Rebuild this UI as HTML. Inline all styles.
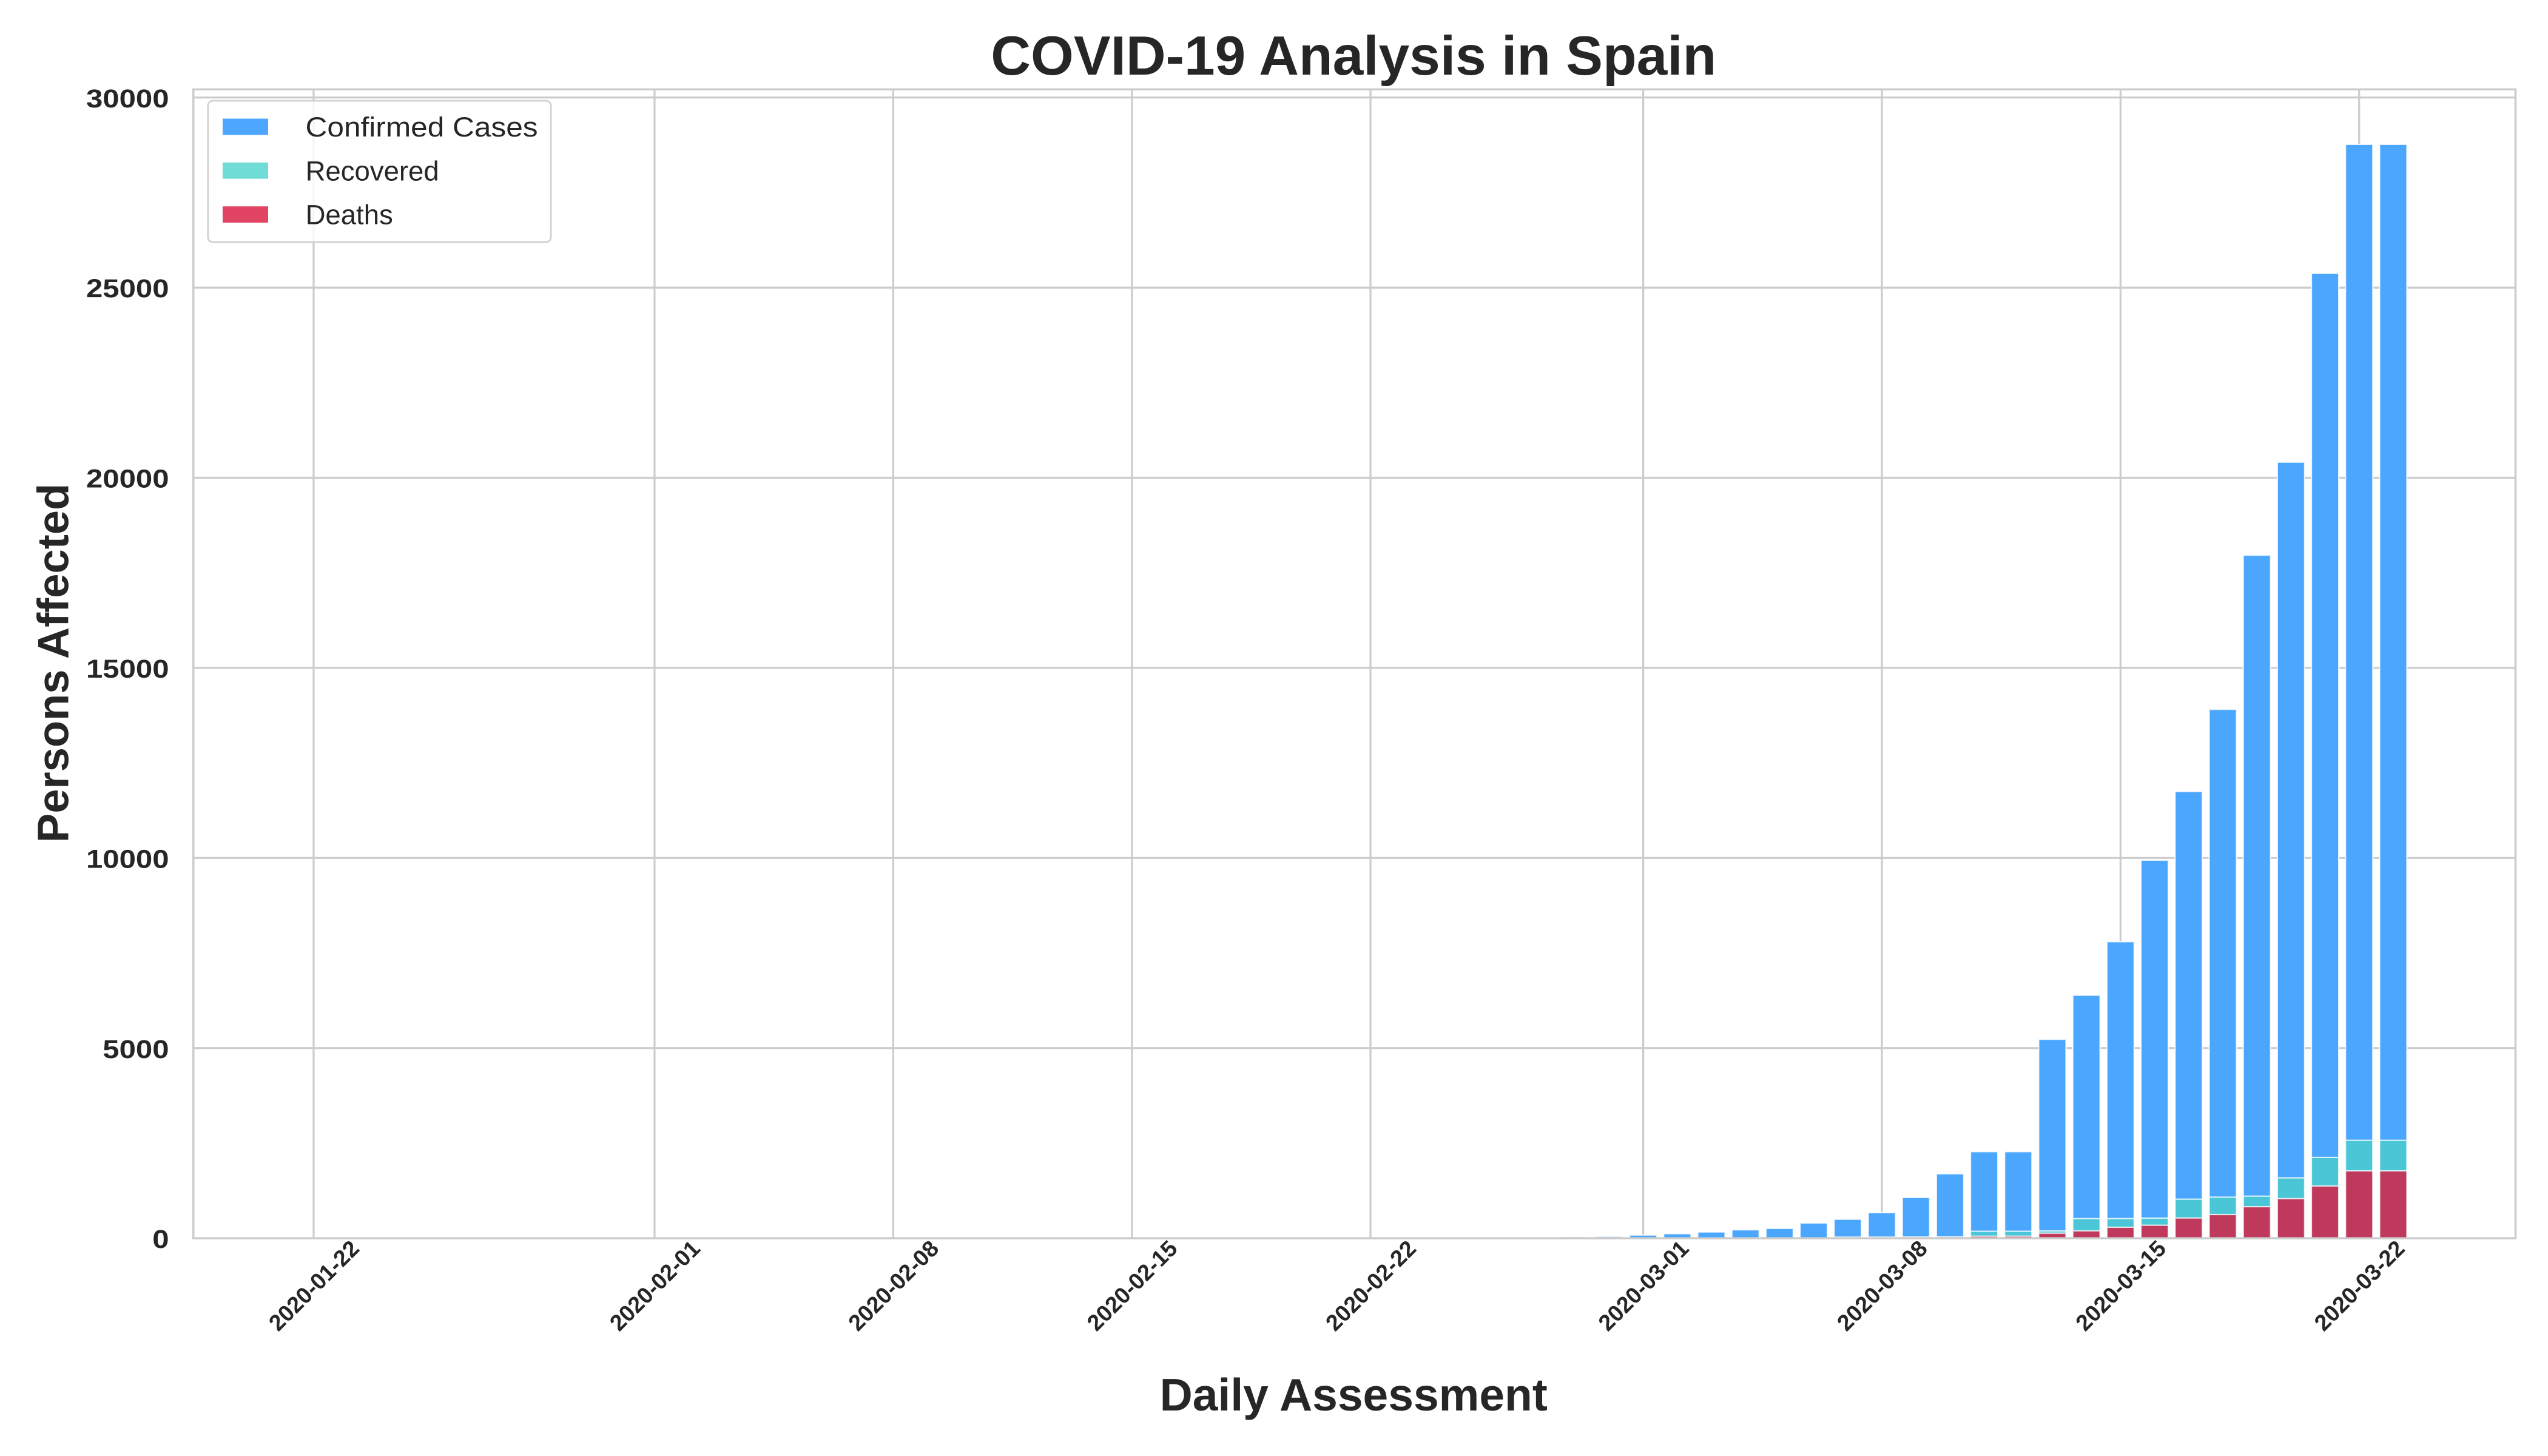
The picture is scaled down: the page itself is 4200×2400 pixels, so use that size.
<!DOCTYPE html>
<html><head><meta charset="utf-8"><style>html,body{margin:0;padding:0;background:#fff}svg{display:block}</style></head>
<body>
<svg id="chart" width="4200" height="2400" viewBox="0 0 1568 896" xmlns="http://www.w3.org/2000/svg" font-family="'Liberation Sans', sans-serif">
<rect width="1568" height="896" fill="#fff"/>
<g id="grid"></g>
<g id="bars"></g>
<rect x="119" y="55" width="1429" height="707" fill="none" stroke="#cccccc" stroke-width="1.3"/>
<g id="yticks"></g>
<g id="xticks"></g>
<text x="833" y="46" text-anchor="middle" font-size="34" font-weight="bold" fill="#262626">COVID-19 Analysis in Spain</text>
<text x="833" y="868" text-anchor="middle" font-size="28" font-weight="bold" fill="#262626">Daily Assessment</text>
<text transform="translate(42,408) rotate(-90)" text-anchor="middle" font-size="27" font-weight="bold" fill="#262626">Persons Affected</text>
<g>
<rect x="128" y="62" width="211" height="87" rx="3" fill="#fff" fill-opacity="0.8" stroke="#d0d0d0" stroke-width="1"/>
<rect x="137" y="73" width="28" height="10" fill="#4da6ff"/>
<text x="188" y="84" font-size="17" fill="#262626" textLength="143" lengthAdjust="spacingAndGlyphs">Confirmed Cases</text>
<rect x="137" y="100" width="28" height="10" fill="#70dcd6"/>
<text x="188" y="111" font-size="17" fill="#262626">Recovered</text>
<rect x="137" y="127" width="28" height="10" fill="#e04462"/>
<text x="188" y="138" font-size="17" fill="#262626">Deaths</text>
</g>
</svg>
<script>
const dates = ["2020-02-01","2020-02-09","2020-02-15","2020-02-25","2020-02-26","2020-02-27","2020-02-28","2020-02-29","2020-03-01","2020-03-02","2020-03-03","2020-03-04","2020-03-05","2020-03-06","2020-03-07","2020-03-08","2020-03-09","2020-03-10","2020-03-11","2020-03-12","2020-03-13","2020-03-14","2020-03-15","2020-03-16","2020-03-17","2020-03-18","2020-03-19","2020-03-20","2020-03-21","2020-03-22","2020-03-23"];
const confirmed = [1,2,2,6,13,15,32,45,84,120,165,222,259,400,500,673,1073,1695,2277,2277,5232,6391,7798,9942,11748,13910,17963,20410,25374,28768,28768];
const recovered = [0,0,2,2,2,2,2,2,2,2,2,2,2,2,30,30,32,32,183,183,193,517,517,530,1028,1081,1107,1588,2125,2575,2575];
const deaths = [0,0,0,0,0,0,0,0,0,0,1,2,3,5,10,17,28,35,54,55,133,195,289,342,533,623,830,1043,1375,1772,1772];
const yTicks = [0,5000,10000,15000,20000,25000,30000];
const xTickLabels = ["2020-01-22","2020-02-01","2020-02-08","2020-02-15","2020-02-22","2020-03-01","2020-03-08","2020-03-15","2020-03-22"];

const NS="http://www.w3.org/2000/svg";
const t0=Date.UTC(2020,0,22);
function dayOf(s){const p=s.split('-');return (Date.UTC(+p[0],+p[1]-1,+p[2])-t0)/86400000;}
function xs(d){return 193+20.98*d;}
function ys(v){return 762-v*(702/30000);}
function mk(tag,attrs,parent){const e=document.createElementNS(NS,tag);for(const k in attrs)e.setAttribute(k,attrs[k]);parent.appendChild(e);return e;}
const grid=document.getElementById('grid'),bars=document.getElementById('bars'),yt=document.getElementById('yticks'),xt=document.getElementById('xticks');
yTicks.forEach(v=>{
  const l=mk('line',{x1:119,x2:1548,y1:ys(v),y2:ys(v),stroke:'#cccccc','stroke-width':1.2},grid);
  
  
  const s=String(v);
  const t=mk('text',{x:104,y:ys(v)+6,'text-anchor':'end','font-size':16,'font-weight':'bold',fill:'#262626',textLength:s.length*10.2,lengthAdjust:'spacingAndGlyphs'},yt);
  t.textContent=s;
  
  
});
xTickLabels.forEach(s=>{
  const x=xs(dayOf(s));
  const l=mk('line',{x1:x,x2:x,y1:55,y2:762,stroke:'#cccccc','stroke-width':1.2},grid);
  
  
  const t=mk('text',{transform:`translate(${x},${791}) rotate(-45)`,'text-anchor':'middle',y:5,'font-size':14,'font-weight':'bold',fill:'#262626'},xt);
  t.textContent=s;
  
  
});
const bw=0.8*20.98;
function drawSeries(vals,color,name){
  vals.forEach((v,i)=>{
    if(v<=0)return;
    const x=xs(dayOf(dates[i]))-bw/2;
    const r=mk('rect',{x:x,y:ys(v),width:bw,height:762-ys(v),fill:color,stroke:'#ffffff','stroke-width':0.8,'stroke-opacity':0.8},bars);
    
    
  });
}
drawSeries(confirmed,'#4ba6fe','bar-confirmed');
drawSeries(recovered,'#4ac6d6','bar-recovered');
drawSeries(deaths,'#be395b','bar-deaths');
</script>
</body></html>
